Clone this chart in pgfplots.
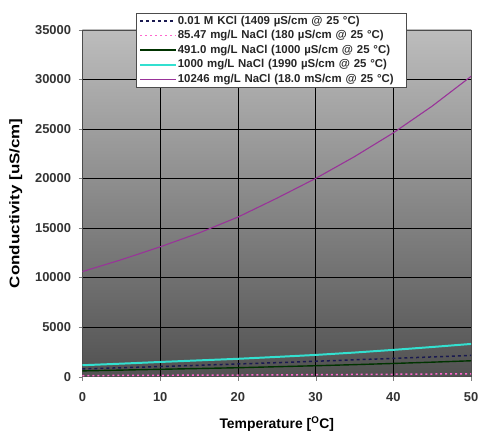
\documentclass[border=0pt]{standalone}
\usepackage{fontspec}
\setmainfont{Liberation Sans}
\newfontfamily\ylabfont[FakeStretch=1.22]{Liberation Sans}
\usepackage{pgfplots}
\pgfplotsset{compat=1.18}
\definecolor{kcl}{HTML}{1A1A50}
\definecolor{pinkc}{HTML}{FF66CC}
\definecolor{dgreen}{HTML}{003300}
\definecolor{cyanc}{HTML}{33E0D0}
\definecolor{purp}{HTML}{993399}
\begin{document}
\begin{tikzpicture}
\begin{axis}[
  name=ax,
  scale only axis,
  width=391pt, height=349pt,
  xmin=0, xmax=50, ymin=0, ymax=35000,
  xtick={0,10,20,30,40,50},
  ytick={0,5000,10000,15000,20000,25000,30000,35000},
  scaled y ticks=false,
  /pgf/number format/1000 sep={},
  /pgf/number format/assume math mode=true,
  tick label style={font=\fontsize{13}{15}\selectfont\bfseries, text=black!80},
  yticklabel style={xshift=-4pt},
  xticklabel style={yshift=-8pt},
  xlabel={\fontsize{14}{16}\selectfont\bfseries Temperature [\textsuperscript{O}C]},
  ylabel={\fontsize{14}{16}\selectfont\ylabfont\bfseries Conductivity [uS/cm]},
  xlabel style={yshift=-9pt},
  ylabel style={yshift=6pt},
  tick align=outside,
  xtick pos=bottom, ytick pos=left,
  major tick length=4pt,
  grid=major,
  major grid style={black, line width=0.6pt},
  axis line style={black!70, line width=0.5pt},
  axis background/.style={top color=black!26, bottom color=black!68},
  legend style={at={(0.138,1.0487)}, anchor=north west, draw=black!70, fill=white,
    font=\fontsize{11.5}{12}\selectfont\bfseries, inner xsep=3pt, inner ysep=1.5pt,
    row sep=2pt, text=black!85,
    nodes={inner sep=1pt, text height=8.5pt, text depth=2.2pt, text width=226pt, align=left}},
  legend cell align=left,
  legend image post style={xscale=2.1},
]
\addplot[kcl, dash pattern=on 3pt off 3pt, line width=1.5pt] coordinates {
 (0,776) (5,896) (10,1020) (15,1147) (20,1278) (25,1409) (30,1552) (35,1700) (40,1839) (45,1990) (50,2140)};
\addlegendentry{0.01 M KCl (1409 µS/cm @ 25 °C)}
\addplot[pinkc, dash pattern=on 2pt off 3pt, line width=1.5pt] coordinates {
 (0,104) (5,119) (10,135) (15,149) (20,163) (25,180) (30,198) (35,218) (40,240) (45,264) (50,290)};
\addlegendentry{85.47 mg/L NaCl (180 µS/cm @ 25 °C)}
\addplot[dgreen, line width=1.4pt] coordinates {
 (0,580) (5,660) (10,740) (15,820) (20,900) (25,1000) (30,1100) (35,1210) (40,1330) (45,1460) (50,1600)};
\addlegendentry{491.0 mg/L NaCl (1000 µS/cm @ 25 °C)}
\addplot[cyanc, line width=2pt] coordinates {
 (0,1150) (5,1310) (10,1480) (15,1640) (20,1800) (25,1990) (30,2190) (35,2430) (40,2700) (45,2990) (50,3300)};
\addlegendentry{1000 mg/L NaCl (1990 µS/cm @ 25 °C)}
\addplot[purp, line width=1.1pt] coordinates {
 (0,10600) (5,11800) (10,13100) (15,14500) (20,16100) (25,18000) (30,20000) (35,22200) (40,24600) (45,27300) (50,30300)};
\addlegendentry{10246 mg/L NaCl (18.0 mS/cm @ 25 °C)}
\end{axis}
\pgfresetboundingbox
\path ([shift={(-83pt,-58pt)}]ax.south west) rectangle ([shift={(8pt,30pt)}]ax.north east);
\end{tikzpicture}
\end{document}
